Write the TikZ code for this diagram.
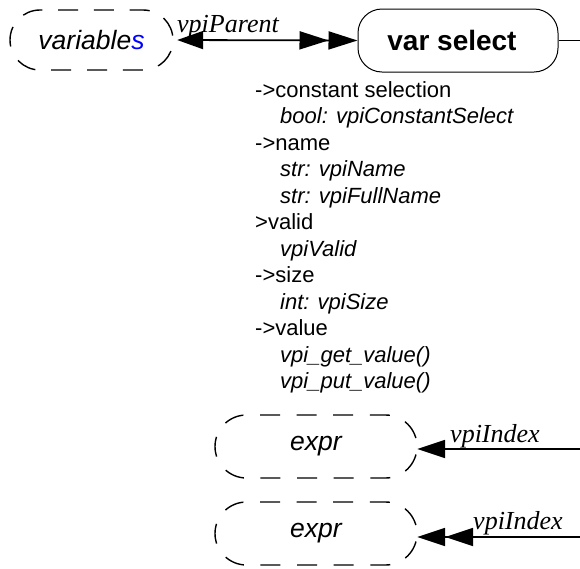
\documentclass[tikz,border=0pt]{standalone}
\usepackage{fontspec}
\setmainfont{Liberation Serif}
\setsansfont{Liberation Sans}
\usetikzlibrary{arrows.meta}
\definecolor{linkblue}{RGB}{0,0,255}
\begin{document}
\begin{tikzpicture}[x=1pt,y=-1pt,
  dashbox/.style={inner sep=0pt, font=\sffamily\itshape\fontsize{26.5}{30}\selectfont},
  outline/.style={line width=1.4pt},
  solidbox/.style={draw, line width=1pt, rounded corners=24pt, inner sep=0pt,
    minimum width=200pt, minimum height=63pt, font=\sffamily\bfseries\fontsize{28}{30}\selectfont},
  lbl/.style={font=\itshape\fontsize{26}{30}\selectfont, inner sep=0pt, anchor=base west},
  head/.style={font=\sffamily\fontsize{22}{24}\selectfont, inner sep=0pt, anchor=base west},
  sub/.style={font=\sffamily\itshape\fontsize{22}{24}\selectfont, inner sep=0pt, anchor=base west},
  conn/.style={line width=1.8pt},
  one/.style={-{Triangle[length=28pt,width=18pt]}},
  two/.style={-{Triangle[length=28pt,width=18pt]Triangle[length=28pt,width=18pt]}}]
\useasboundingbox (0,0) rectangle (580,568);

% nodes
\node[dashbox, minimum width=163pt, minimum height=60pt] (variables) at (91.5,40) {variable\textcolor{linkblue}{s}};
\node[solidbox] (varsel) at (458,40.5) {\hspace*{-12pt}var select};
\node[dashbox, minimum width=202pt, minimum height=63pt] (expr1) at (316,446.5) {expr};
\node[dashbox, minimum width=202pt, minimum height=63pt] (expr2) at (316,533.5) {expr};

% dashed capsule outlines
\begin{scope}[shift={(variables.center)}]
  \draw[outline, dash pattern=on 20pt off 15.86pt]
    (-33.5,-30) -- (51.5,-30) arc[start angle=-90, end angle=90, radius=30]
    -- (-51.5,30) arc[start angle=90, end angle=270, radius=30] -- cycle;
\end{scope}
\foreach \e in {expr1,expr2}{
  \begin{scope}[shift={(\e.center)}]
    \draw[outline, dash pattern=on 20pt off 16.61pt]
      (-56,-31.5) -- (69.5,-31.5) arc[start angle=-90, end angle=90, radius=31.5]
      -- (-69.5,31.5) arc[start angle=90, end angle=270, radius=31.5] -- cycle;
  \end{scope}
}

% free ends at the right margin
\coordinate (out) at (580,40.5);
\coordinate (in1) at (580,449);
\coordinate (in2) at (580,537);

% connectors
\draw[conn, {Triangle[length=26pt,width=18pt]}-{Triangle[length=29pt,width=18pt]Triangle[length=29pt,width=18pt]},
  shorten <=4pt] (variables.east) -- (varsel.west);
\draw[conn] (varsel.east) -- (out);
\draw[conn, one] (in1) -- (expr1.east |- in1);
\draw[conn, two] (in2) -- (expr2.east |- in2);

% connector labels
\node[lbl] (lparent) at (177,32) {vpiParent};
\node[lbl] (lidx1) at (450,442) {vpiIndex};
\node[lbl] (lidx2) at (473,529) {vpiIndex};

% property list
\node[head] (p1)  at (255,97)    {->constant selection};
\node[sub]  (p2)  at (280,123.5) {bool: vpiConstantSelect};
\node[head] (p3)  at (255,150)   {->name};
\node[sub]  (p4)  at (280,176.5) {str: vpiName};
\node[sub]  (p5)  at (280,203)   {str: vpiFullName};
\node[head] (p6)  at (255,229.5) {>valid};
\node[sub]  (p7)  at (280,256)   {vpiValid};
\node[head] (p8)  at (255,282.5) {->size};
\node[sub]  (p9)  at (280,309)   {int: vpiSize};
\node[head] (p10) at (255,335.5) {->value};
\node[sub]  (p11) at (280,362)   {vpi\_get\_value()};
\node[sub]  (p12) at (280,388.5) {vpi\_put\_value()};
\end{tikzpicture}
\end{document}
